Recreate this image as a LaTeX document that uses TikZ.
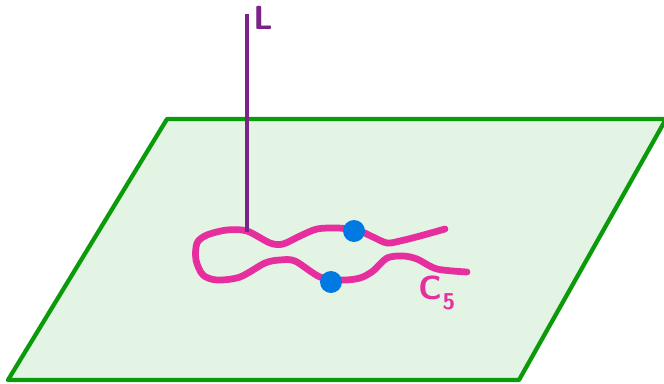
\documentclass[tikz,border=0pt]{standalone}
\usepackage{xcolor}
\definecolor{planegreen}{HTML}{0A9A0A}
\definecolor{planefill}{HTML}{E3F3E4}
\definecolor{linepurple}{HTML}{7A2389}
\definecolor{curvepink}{HTML}{E62E9E}
\definecolor{dotblue}{HTML}{0079E3}
\tikzset{
  plane/.style={draw=planegreen, fill=planefill, line width=0.085cm, line join=round},
  axis/.style={draw=linepurple, line width=0.1cm},
  curve/.style={draw=curvepink, line width=0.135cm, line cap=round, line join=round},
  marked/.style={circle, fill=dotblue, inner sep=0pt, minimum size=0.44cm},
  handtext/.style={inner sep=0pt, font=\sffamily\fontsize{#1}{#1}\selectfont},
}
\begin{document}
\begin{tikzpicture}[x=0.02cm,y=-0.02cm]
    \useasboundingbox (0,0) rectangle (664,383);
    \draw[plane] (167,119) -- (666,119) -- (519,380) -- (8,380) -- cycle;
    \coordinate (top) at (247,14); \coordinate (foot) at (247,232);
    \draw[curve] plot[smooth, tension=0.5] coordinates {
      (445,229) (420,236) (400,241) (387,243) (373,237) (357,230) (337,228)
      (317,229) (300,236) (283,244) (270,243) (247,231) (227,230) (207,235)
      (197,243) (196,260) (203,275) (217,280) (240,277) (265,263) (280,260)
      (295,261) (320,277) (343,280) (360,278) (373,271) (387,258) (403,256)
      (417,259) (437,269) (467,272)};
    \draw[axis] (top) -- (foot);
    \node[marked] (upper) at (354,231) {};
    \node[marked] (lower) at (331,282) {};
    \node[handtext=19, text=linepurple] (L) at (263,18) {\textbf{L}};
    \node[handtext=19, text=curvepink] (C) at (430,288) {\textbf{C}};
    \node[handtext=13, text=curvepink] (five) at (449,302) {\textbf{5}};
  \end{tikzpicture}
\end{document}
